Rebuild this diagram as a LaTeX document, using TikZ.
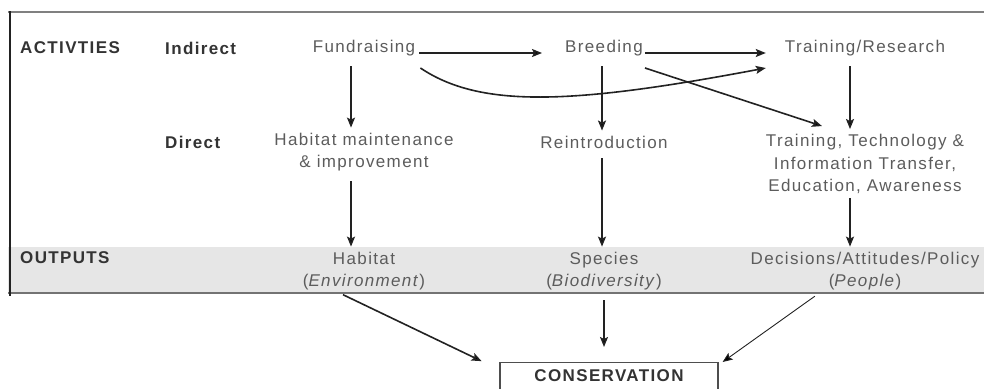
\documentclass[tikz,border=0pt]{standalone}
\usepackage{fontspec}
\setmainfont{Liberation Sans}[LetterSpace=8]
\usetikzlibrary{positioning, arrows.meta}
\definecolor{ink}{HTML}{222222}
\definecolor{txtgray}{HTML}{5C5C5C}
\definecolor{lblgray}{HTML}{333333}
\definecolor{bandgray}{HTML}{E6E6E6}
\tikzset {
    ->,
    >={Stealth[length=10pt, width=8pt, inset=2pt]},
    node distance=240pt,
    txt/.style={text=txtgray, align=center, inner sep=0pt, font=\fontsize{17}{22.5}\selectfont},
    lbl/.style={text=lblgray, anchor=west, inner sep=0pt, font=\fontsize{17}{22.5}\selectfont\bfseries},
    arr/.style={draw=ink, line width=1.6pt, -, every edge/.append style={->}},
    vert/.style={arr, shorten <=10pt, shorten >=5pt}
}
\begin{document}
\begin{tikzpicture}[x=1pt, y=-1pt]
    \useasboundingbox (0,0) rectangle (984,388);
    % frame and output band
    \fill[bandgray] (8,247) rectangle (984,293);
    \draw[-, draw=gray, line width=1.5pt] (8,12) -- (984,12);
    \draw[-, draw=gray!90!black, line width=1.5pt] (8,293) -- (984,293);
    \draw[-, draw=ink, line width=2pt] (10,11) -- (10,296);

    \node[lbl] (act) at (20,48) {ACTIVTIES};
    \node[lbl] (ind) at (165,48) {Indirect};
    \node[lbl] (dir) at (165,142) {Direct};
    \node[lbl] (outp) at (20,258) {OUTPUTS};

    \node[txt] (fund) at (364,48) {Fundraising};
    \node[txt, right of=fund] (breed) {Breeding};
    \node[txt, right of=breed, node distance=261pt] (tres) {Training/Research};

    \node[txt] (habm) at (364,152) {Habitat maintenance\\\& improvement};
    \node[txt] (reint) at (604,142) {Reintroduction};
    \node[txt] (ttech) at (865,164) {Training, Technology \&\\Information Transfer,\\Education, Awareness};

    \node[txt] (hab) at (364,271) {Habitat\\(\textit{Environment})};
    \node[txt, right of=hab] (spec) {Species\\(\textit{Biodiversity})};
    \node[txt, right of=spec, node distance=261pt] (deci) {Decisions/Attitudes/Policy\\(\textit{People})};

    \node[draw=ink!80, line width=1.2pt, text=lblgray, font=\fontsize{17}{22.5}\selectfont\bfseries,
          minimum width=218pt, anchor=north, inner ysep=7pt, text depth=20pt] (cons) at (609,362) {CONSERVATION};

    \draw[arr]
    ([yshift=-5pt]fund.east) edge[shorten <=4pt, shorten >=23pt] ([yshift=-5pt]breed.west)
    ([yshift=-5pt]breed.east) edge[shorten <=2pt, shorten >=19pt] ([yshift=-5pt]tres.west)
    ([shift={(2,20)}]breed.east) edge ([shift={(-43,-8)}]ttech.north)
    ([xshift=-30pt]hab.south) edge[shorten <=10pt, shorten >=2pt] ([xshift=-16pt]cons.north west)
    (spec.south) edge[shorten <=10pt, shorten >=15pt] (spec.south |- cons.north)
    ([xshift=-42pt]deci.south) edge[line width=0.9pt, shorten <=10pt] ([xshift=4pt]cons.north east);

    \draw[arr, ->] ([shift={(5,20)}]fund.east) .. controls (480,108) and (570,105) .. ([shift={(-19,20)}]tres.west);

    \draw[vert]
    ([xshift=-13pt]fund.south) edge ([xshift=-13pt]habm.north)
    ([xshift=-2pt]breed.south) edge ([xshift=-2pt]reint.north)
    ([xshift=-15pt]tres.south) edge ([xshift=-15pt]ttech.north)
    ([xshift=-13pt]habm.south) edge ([xshift=-13pt]hab.north)
    ([xshift=-2pt]reint.south) edge ([xshift=-2pt]spec.north)
    ([xshift=-15pt]ttech.south) edge[shorten <=4pt] ([xshift=-15pt]deci.north);
\end{tikzpicture}
\end{document}
